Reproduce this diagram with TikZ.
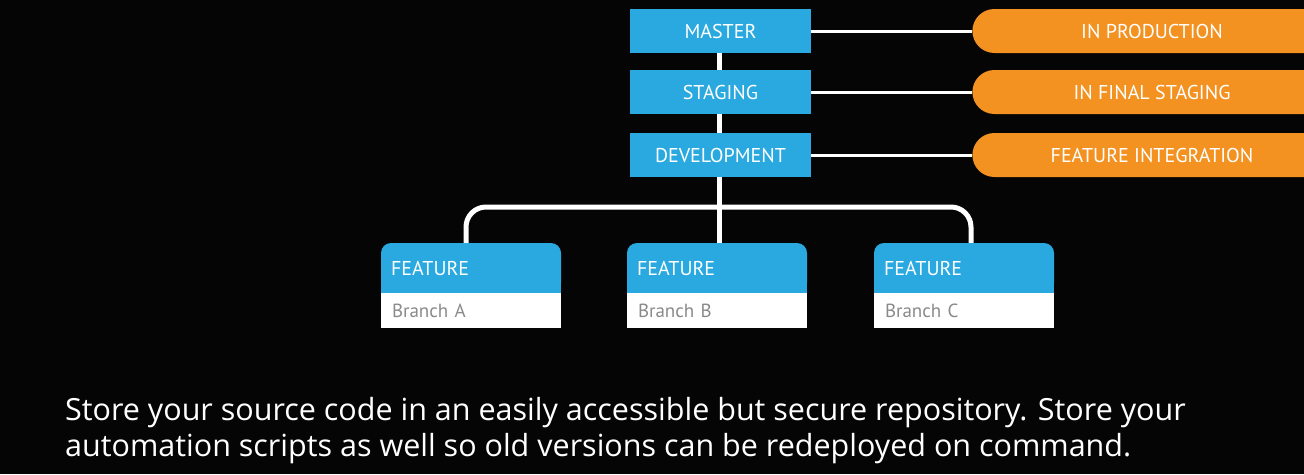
\documentclass[tikz,border=0pt]{standalone}
\usepackage{fontspec}
\setmainfont{Open Sans}
\newfontfamily\boxfont{PT Sans}
\usetikzlibrary{shapes.misc,positioning,calc}
\definecolor{bgc}{HTML}{050505}
\definecolor{cblue}{HTML}{29A9E0}
\definecolor{corange}{HTML}{F39221}
\definecolor{cgray}{HTML}{8A8A8A}
\tikzset{
  lvl/.style={fill=cblue, minimum width=181pt, minimum height=44pt, inner sep=0pt, text=white, font=\boxfont\fontsize{20}{24}\selectfont},
  pill/.style={rounded rectangle, rounded rectangle right arc=none, fill=corange, minimum width=358pt, minimum height=44pt, inner sep=0pt, text=white, font=\boxfont\fontsize{20}{24}\selectfont},
  fhead/.style={fill=cblue, rounded corners=10pt, minimum width=180pt, minimum height=50pt, text width=160pt, align=left, inner xsep=10pt, inner ysep=0pt, text=white, font=\boxfont\fontsize{20}{24}\selectfont},
  fbody/.style={fill=white, minimum width=180pt, minimum height=35pt, text width=158pt, align=left, inner xsep=11pt, inner ysep=0pt, text=cgray, font=\boxfont\fontsize{19}{22}\selectfont},
  thin/.style={draw=white, line width=3pt},
  thick/.style={draw=white, line width=5pt},
}
\begin{document}
\begin{tikzpicture}[x=1pt,y=-1pt]
\path[use as bounding box, fill=bgc] (0,0) rectangle (1304,474);
\clip (0,0) rectangle (1304,474);
\coordinate (bar) at (719,207);
\node[lvl] (master) at (720.5,31) {MASTER};
\node[lvl] (staging) at (720.5,92) {STAGING};
\node[lvl] (dev) at (720.5,155) {DEVELOPMENT};
\node[pill] (p1) at (1152,31) {IN PRODUCTION};
\node[pill] (p2) at (1152,92) {IN FINAL STAGING};
\node[pill] (p3) at (1152,155) {FEATURE INTEGRATION};
\draw[thin] (master.east) -- (p1.west);
\draw[thin] (staging.east) -- (p2.west);
\draw[thin] (dev.east) -- (p3.west);
\draw[thick] (master.south -| bar) -- (staging.north -| bar);
\draw[thick] (staging.south -| bar) -- (dev.north -| bar);
% feature boxes
\node[fhead] (fa) at (471,268) {FEATURE};
\node[fhead] (fb) at (717,268) {FEATURE};
\node[fhead] (fc) at (964,268) {FEATURE};
\foreach \f in {fa,fb,fc}{\fill[cblue] ([yshift=12pt]\f.south west) rectangle (\f.south east);}
\node[fbody, below=0pt of fa] (ba) {Branch A};
\node[fbody, below=0pt of fb] (bb) {Branch B};
\node[fbody, below=0pt of fc] (bc) {Branch C};
\draw[thick] (dev.south -| bar) -- (fb.north -| bar);
\draw[thick, rounded corners=20pt] ([xshift=-5pt]fa.north) |- (bar) -| ([xshift=7pt]fc.north);
% caption
\node[anchor=north west, inner sep=0pt, text=white, align=left, font=\fontsize{30.5}{36}\selectfont] (cap) at (65,397) {Store your source code in an easily accessible but secure repository. Store your\\automation scripts as well so old versions can be redeployed on command.};
\end{tikzpicture}
\end{document}
